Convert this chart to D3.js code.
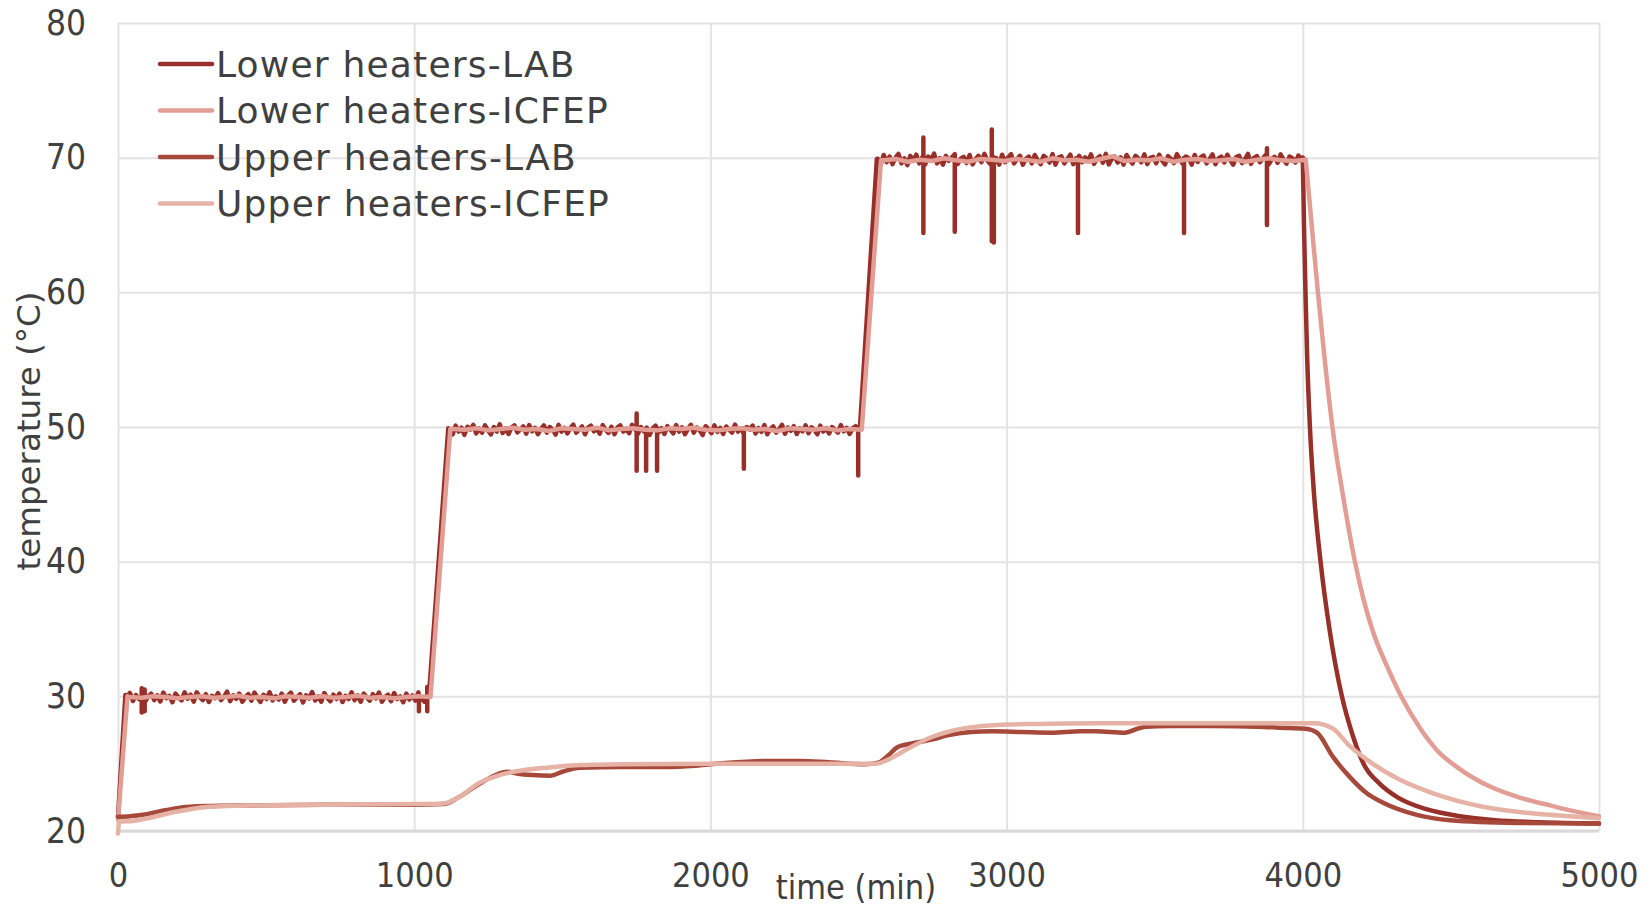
<!DOCTYPE html>
<html><head><meta charset="utf-8">
<script src="https://cdn.jsdelivr.net/npm/d3@7"></script>
<style>
html,body{margin:0;padding:0;background:#fff;}
svg{display:block;}
</style></head>
<body>
<svg id="chart" width="1650" height="910"></svg>
<script>
// ---------- DATA ----------
const seriesNames = ["Lower heaters-LAB","Lower heaters-ICFEP","Upper heaters-LAB","Upper heaters-ICFEP"];
const xTicks = [0,1000,2000,3000,4000,5000];
const yTicks = [20,30,40,50,60,70,80];

// Lower heaters-LAB: ramps, noisy plateaus, spikes, decay
const lowerLabRamp0 = [[0,21.05],[25,30.1]];
const lowerLabPlateau30 = {start:30,end:1045,values:[
29.95,30.25,29.65,30.1,29.8,30.32,29.6,30.0,30.2,29.72,
30.08,29.62,30.28,29.86,30.04,29.56,30.2,29.92,29.7,30.3,
29.82,30.12,29.6,30.3,29.94,29.72,30.16,29.58,30.04,29.86,
30.24,29.72,29.98,30.35,29.64,30.08,29.82,30.2,29.6,29.94,
30.16,29.68,30.28,29.9,29.58,30.12,29.8,30.3,29.7,30.0,
29.76,30.2,29.6,30.04,30.28,29.68,29.92,30.16,29.55,30.08,
29.84,30.32,29.7,30.0,29.6,30.24,29.9,29.64,30.12,29.8,
30.2,29.58,30.04,29.8,30.3,29.72,30.08,29.6,30.2,29.92,
29.68,30.16,29.84,30.28,29.6,29.96,30.12,29.64,30.24,29.8,
30.0,29.56,30.2,29.76,30.08,29.68,30.3,29.84,29.6,30.1]};
const lowerLabRamp1 = [[1050,30.1],[1115,49.9]];
const lowerLabPlateau50 = {start:1120,end:2500,values:[
49.84,49.45,50.1,49.66,49.95,49.42,50.02,49.8,50.16,49.52,
49.9,49.58,50.12,49.74,49.44,50.0,49.66,50.2,49.56,49.9,
49.48,49.96,50.12,49.6,49.8,50.04,49.5,50.14,49.68,49.94,
49.46,49.86,50.12,49.58,50.0,49.8,49.44,50.16,49.66,49.94,
49.52,49.9,50.18,49.58,49.8,50.04,49.46,49.96,50.1,49.68,
49.9,49.5,50.14,49.8,49.56,50.02,49.46,49.96,50.12,49.66,
49.86,49.54,50.16,49.8,49.5,50.0,49.68,49.96,49.42,49.9,
50.1,49.6,49.92,49.48,50.06,49.8,49.52,50.14,49.66,49.98,
49.46,49.86,50.16,49.58,49.96,49.74,49.4,50.06,49.84,49.54,
50.12,49.64,49.94,49.48,50.04,49.8,49.58,50.18,49.66,49.9,
49.5,50.0,49.8,50.1,49.52,49.92,49.64,50.14,49.46,49.86,
50.04,49.58,49.84,50.16,49.5,49.96,49.72,50.06,49.48,49.9,
49.68,50.12,49.54,49.98,49.8,49.46,50.1,49.66,49.92,49.52,
50.0,49.8,49.58,50.14,49.68,49.94,49.48,49.9,50.06,49.8]};
const lowerLabRamp2 = [[2505,50.0],[2562,69.9]];
const lowerLabPlateau70 = {start:2565,end:3995,values:[
69.92,69.48,70.2,69.66,70.08,69.52,70.0,70.28,69.58,69.94,
69.45,70.14,69.76,70.22,69.58,70.02,69.5,70.08,69.84,70.3,
69.58,69.96,69.48,70.14,69.76,70.02,70.26,69.54,69.92,70.06,
69.6,70.2,69.5,69.88,70.14,69.66,70.28,69.78,69.52,70.06,
69.96,69.48,70.22,69.66,70.02,70.26,69.58,69.88,70.14,69.48,
69.92,70.08,69.58,70.2,69.8,69.52,70.14,69.94,69.64,70.26,
69.48,70.0,70.1,69.58,69.88,70.22,69.52,69.96,70.14,69.66,
70.02,69.78,70.24,69.54,69.92,70.12,69.62,70.28,69.5,69.9,
70.08,69.64,70.02,69.48,70.2,69.82,69.56,70.14,69.94,69.66,
70.24,69.52,69.98,70.06,69.58,70.22,69.8,69.5,70.12,69.9,
69.6,70.26,69.86,69.54,70.08,69.96,69.48,70.2,69.68,70.02,
70.16,69.58,69.88,70.24,69.52,69.94,70.08,69.64,70.22,69.82,
69.48,70.04,70.14,69.6,69.9,70.28,69.54,69.98,70.12,69.66,
69.94,70.2,69.5,69.88,70.06,69.62,70.24,69.86,69.56,70.08,
69.96,69.64,70.16,69.8]};
const lowerLabDecay = [[4000,70.0],[4004,65],[4009,60],[4015,55],[4024,50],[4038,45],[4060,40],[4090,35],[4132,30],[4170,27],[4205,25],[4260,23.5],[4320,22.5],[4420,21.6],[4530,21.1],[4650,20.8],[4800,20.65],[5000,20.55]];
// spikes: [time, base, low, high]
const lowerLabSpikes = [[80,29.95,28.8,30.6],[90,29.95,28.9,30.5],[1016,29.95,28.9,30.0],[1044,29.95,28.9,30.7],
  [1751,49.8,46.75,51.0],[1783,49.8,46.75,49.9],[1820,49.8,46.75,49.9],[2113,49.8,46.9,49.9],[2499,49.8,46.4,49.9],
  [2719,69.85,64.4,71.5],[2825,69.85,64.5,70.0],[2950,69.85,63.8,72.1],[2957,69.85,63.7,70.0],[3241,69.85,64.4,70.0],[3599,69.85,64.4,70.0],[3879,69.85,65.0,70.7]];

// Lower heaters-ICFEP
const lowerIcfepRamp0 = [[0,20.8],[32,30.0]];
const lowerIcfepPlateau30 = {start:38,end:1055,values:[29.95,29.9,30.0,29.95,29.85,29.95,30.0,29.9,29.95,30.05,29.9,29.95,29.85,30.0,29.95,29.9,30.0,29.9,29.95,30.05,29.9,29.95,29.85,29.95,30.0,29.95]};
const lowerIcfepRamp1 = [[1122,49.85]];
const lowerIcfepPlateau50 = {start:1130,end:2511,values:[49.85,49.8,49.9,49.75,49.85,49.95,49.8,49.85,49.7,49.9,49.85,49.8,49.95,49.75,49.85,49.9,49.8,49.75,49.9,49.85,49.95,49.8,49.75,49.85,49.9,49.8,49.85,49.7,49.9,49.85,49.8,49.9,49.75,49.85,49.8]};
const lowerIcfepRamp2 = [[2576,69.8]];
const lowerIcfepPlateau70 = {start:2585,end:4010,values:[69.8,69.9,69.7,69.85,69.75,69.95,69.8,69.7,69.9,69.85,69.75,69.9,69.8,69.7,69.95,69.8,69.85,69.7,69.9,70.1,69.75,69.85,69.8,69.95,69.7,69.85,69.9,69.75,69.8,69.9,69.7,69.85,69.95,69.8,69.75,69.85]};
const lowerIcfepDecay = [[4010,69.85],[4030,65],[4051,60],[4074,55],[4100,50],[4135,45],[4176,40],[4205,37.2],[4237,34.8],[4285,32.2],[4332,30],[4400,27.5],[4453,26],[4530,24.6],[4632,23.3],[4730,22.5],[4835,21.9],[4930,21.4],[5000,21.1]];

// Upper heaters-LAB
const upperLab = [[0,21.05],[40,21.1],[85,21.2],[150,21.5],[200,21.7],[300,21.85],[450,21.9],[700,21.95],[1000,21.95],[1100,22.0],[1150,22.5],[1220,23.5],[1270,24.1],[1313,24.4],[1350,24.25],[1400,24.15],[1460,24.1],[1500,24.4],[1560,24.7],[1700,24.75],[1850,24.75],[1950,24.85],[2050,25.05],[2200,25.2],[2300,25.2],[2400,25.1],[2520,24.95],[2570,25.1],[2600,25.6],[2630,26.2],[2680,26.5],[2750,26.8],[2800,27.1],[2880,27.35],[2950,27.4],[3050,27.35],[3150,27.3],[3250,27.4],[3300,27.4],[3400,27.3],[3430,27.5],[3470,27.75],[3550,27.8],[3700,27.8],[3850,27.75],[3950,27.65],[4010,27.6],[4048,27.3],[4102,25.5],[4159,24.0],[4216,22.8],[4271,22.1],[4385,21.2],[4497,20.8],[4722,20.6],[5000,20.55]];

// Upper heaters-ICFEP
const upperIcfep = [[0,19.8],[4,20.7],[50,20.75],[100,20.95],[200,21.45],[311,21.8],[450,21.9],[700,21.95],[1000,22.0],[1100,22.05],[1150,22.5],[1222,23.6],[1280,24.1],[1325,24.35],[1400,24.6],[1450,24.7],[1560,24.9],[1700,24.95],[2000,25.0],[2300,25.0],[2560,25.0],[2600,25.3],[2650,25.9],[2700,26.5],[2750,27.0],[2800,27.35],[2850,27.6],[2900,27.75],[3000,27.9],[3100,27.95],[3300,28.0],[4036,28.0],[4070,27.9],[4102,27.6],[4159,26.3],[4216,25.3],[4328,23.8],[4440,22.8],[4608,21.8],[4835,21.2],[5000,20.95]];

const colors = ["#98302a","#e29d94","#a6493a","#e6b2a6"];

// ---------- BUILD ----------
function plateau(p){
  const n = p.values.length;
  return p.values.map((v,i)=>[p.start + (p.end-p.start)*i/(n-1), v]);
}
function insertSpikes(pts, spikes){
  const out = pts.slice();
  spikes.forEach(s=>{
    const idx = out.findIndex(d=>d[0]>s[0]);
    out.splice(idx,0,[s[0],s[1]],[s[0],s[2]],[s[0],s[3]],[s[0],s[1]]);
  });
  return out;
}
const lowerLabMain = insertSpikes([].concat(lowerLabRamp0, plateau(lowerLabPlateau30), lowerLabRamp1, plateau(lowerLabPlateau50), lowerLabRamp2, plateau(lowerLabPlateau70), [lowerLabDecay[0]]), lowerLabSpikes);
const lowerIcfepMain = [].concat(lowerIcfepRamp0, plateau(lowerIcfepPlateau30), lowerIcfepRamp1, plateau(lowerIcfepPlateau50), lowerIcfepRamp2, plateau(lowerIcfepPlateau70), [lowerIcfepDecay[0]]);

const L=118, R=1599, T=23, B=831;
const x = d3.scaleLinear().domain([0,5000]).range([L,R]);
const y = d3.scaleLinear().domain([20,80]).range([B,T]);
const svg = d3.select("#chart");
const textColor = "#404040";

// grid
const gx = svg.append("g").attr("transform",`translate(0,${B})`)
  .call(d3.axisBottom(x).tickValues(xTicks).tickSize(-(B-T)).tickFormat(""));
gx.select(".domain").remove();
gx.selectAll("line").attr("stroke","#e3e3e3").attr("stroke-width",2);
const gy = svg.append("g").attr("transform",`translate(${L},0)`)
  .call(d3.axisLeft(y).tickValues(yTicks).tickSize(-(R-L)).tickFormat(""));
gy.select(".domain").remove();
gy.selectAll("line").attr("stroke","#e3e3e3").attr("stroke-width",2);
svg.append("line").attr("x1",L).attr("x2",R).attr("y1",B).attr("y2",B).attr("stroke","#d9d9d9").attr("stroke-width",3);

// tick labels
const tickFont = "'DejaVu Sans Condensed','DejaVu Sans',sans-serif";
const ax = svg.append("g").attr("transform",`translate(0,${B})`)
  .call(d3.axisBottom(x).tickValues(xTicks).tickSize(0).tickPadding(32).tickFormat(d3.format("d")));
ax.select(".domain").remove();
ax.selectAll("text").attr("fill",textColor).style("font-family",tickFont).style("font-size","34px");
const ay = svg.append("g").attr("transform",`translate(${L},0)`)
  .call(d3.axisLeft(y).tickValues(yTicks).tickSize(0).tickPadding(32).tickFormat(d3.format("d")));
ay.select(".domain").remove();
ay.selectAll("text").attr("fill",textColor).style("font-family",tickFont).style("font-size","35px");

// axis titles
svg.append("text").attr("x",856).attr("y",899).attr("text-anchor","middle").attr("fill",textColor)
  .style("font-family",tickFont).style("font-size","34px").text("time (min)");
svg.append("text").attr("transform","translate(29,431) rotate(-90)").attr("text-anchor","middle").attr("dominant-baseline","central")
  .attr("fill",textColor).style("font-family","'DejaVu Sans',sans-serif").style("font-size","32.5px").text("temperature (°C)");

// lines
const line = d3.line().x(d=>x(d[0])).y(d=>y(d[1]));
const smooth = d3.line().x(d=>x(d[0])).y(d=>y(d[1])).curve(d3.curveMonotoneX);
const paths = [
  [lowerLabMain, line, 0],[lowerLabDecay, smooth, 0],
  [lowerIcfepMain, line, 1],[lowerIcfepDecay, smooth, 1],
  [upperLab, smooth, 2],[upperIcfep, smooth, 3]
];
paths.forEach(([d,gen,i])=>{
  svg.append("path").attr("d",gen(d)).attr("fill","none").attr("stroke",colors[i])
    .attr("stroke-width",4.5).attr("stroke-linejoin","round").attr("stroke-linecap","round");
});

// legend
const legY = [64,110.5,157,203.5];
seriesNames.forEach((name,i)=>{
  svg.append("line").attr("x1",160).attr("x2",212).attr("y1",legY[i]).attr("y2",legY[i])
    .attr("stroke",colors[i]).attr("stroke-width",4.5).attr("stroke-linecap","round");
  svg.append("text").attr("x",216).attr("y",legY[i]).attr("dominant-baseline","central").attr("fill",textColor)
    .style("font-family","'DejaVu Sans',sans-serif").style("font-size","36px").style("letter-spacing","1.2px").text(name);
});
</script>
</body></html>
